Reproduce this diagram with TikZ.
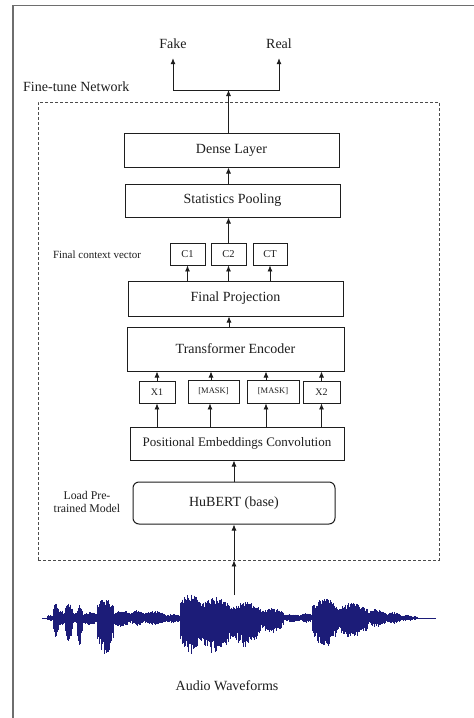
\documentclass[tikz,border=0pt]{standalone}
\usepackage{fontspec}
\setmainfont{Liberation Serif}
\usetikzlibrary{arrows.meta}
\definecolor{wave}{RGB}{28,28,120}
\definecolor{ink}{RGB}{30,30,30}
\definecolor{frame}{RGB}{110,110,110}
\begin{document}
\begin{tikzpicture}[x=1pt,y=-1pt,
  box/.style={draw=ink, line width=1pt, inner sep=0pt, text=ink, font=\rmfamily\fontsize{14}{16}\selectfont},
  smallbox/.style={draw=ink, line width=0.9pt, inner sep=0pt, text=ink},
  arr/.style={draw=ink, line width=0.8pt, -{Latex[length=6pt,width=5pt]}},
  lbl/.style={inner sep=0pt, text=ink, font=\rmfamily\fontsize{14}{16}\selectfont},
  sidelbl/.style={inner sep=0pt, text=ink, font=\rmfamily\fontsize{11.8}{13}\selectfont, align=center},
  ftbox/.style={draw=ink!80, line width=0.8pt, dash pattern=on 3pt off 2pt, inner sep=0pt},
]
\useasboundingbox (0,0) rectangle (474,718);
\fill[white] (0,0) rectangle (474,718);
% outer frame (only top and left visible)
\draw[frame, line width=1.3pt] (474,5.5) -- (13,5.5) -- (13,718);

% fine-tune network dashed region
\node[ftbox, minimum width=401pt, minimum height=458pt] (ft) at (238.5,331) {};
\node[lbl, anchor=west] (ftl) at (23,87) {Fine-tune Network};

% outputs
\node[lbl, minimum height=28pt] (fake) at (173,44) {Fake};
\node[lbl, minimum height=28pt] (real) at (279,44) {Real};

% main boxes
\node[box, minimum width=215pt, minimum height=34pt] (dense) at (231.5,150) {Dense Layer};
\node[box, minimum width=215pt, minimum height=33pt] (stats) at (232.5,200.5) {Statistics Pooling};
\node[smallbox, minimum width=35pt, minimum height=22pt, font=\rmfamily\fontsize{10.5}{12}\selectfont] (c1) at (187.5,254) {C1};
\node[smallbox, minimum width=35pt, minimum height=22pt, font=\rmfamily\fontsize{10.5}{12}\selectfont] (c2) at (228.5,254) {C2};
\node[smallbox, minimum width=34pt, minimum height=22pt, font=\rmfamily\fontsize{10.5}{12}\selectfont] (ct) at (270,254) {CT};
\node[sidelbl, font=\rmfamily\fontsize{11}{13}\selectfont] (fcv) at (97,255) {Final context vector};
\node[box, minimum width=215pt, minimum height=35pt] (proj) at (235.5,298.5) {Final Projection};
\node[box, minimum width=217pt, minimum height=44pt] (enc) at (235.5,349) {Transformer Encoder};
\node[smallbox, minimum width=36pt, minimum height=22pt, font=\rmfamily\fontsize{10}{12}\selectfont] (x1) at (157,392) {X1};
\node[smallbox, minimum width=51pt, minimum height=23pt, font=\rmfamily\fontsize{8.5}{10}\selectfont] (m1) at (213.5,391.5) {[MASK]};
\node[smallbox, minimum width=52pt, minimum height=23pt, font=\rmfamily\fontsize{8.5}{10}\selectfont] (m2) at (273,391.5) {[MASK]};
\node[smallbox, minimum width=37pt, minimum height=22pt, font=\rmfamily\fontsize{10}{12}\selectfont] (x2) at (321.5,392) {X2};
\node[box, minimum width=214pt, minimum height=33pt, font=\rmfamily\fontsize{13}{15}\selectfont] (pec) at (237,443.5) {Positional Embeddings Convolution};
\node[box, rounded corners=6pt, minimum width=202pt, minimum height=42pt] (hub) at (234,503) {HuBERT (base)};
\node[sidelbl] (load) at (87,502) {Load Pre-\\trained Model};

% connectors
\coordinate (split) at (228.5,90);
\draw[arr] (dense.north -| c2) -- (split);
\draw[arr] (split) -| (fake.south);
\draw[arr] (split) -| (real.south);
\draw[arr] (stats.north -| c2) -- (dense.south -| c2);
\draw[arr] (c2.north) -- (stats.south -| c2);
\draw[arr] (proj.north -| c1) -- (c1.south);
\draw[arr] (proj.north -| c2) -- (c2.south);
\draw[arr] (proj.north -| ct) -- (ct.south);
\draw[arr] ([xshift=0.5pt]enc.north -| c2) -- ([xshift=0.5pt]proj.south -| c2);
\draw[arr] (x1.north) -- (enc.south -| x1);
\draw[arr] ([xshift=-2.5pt]m1.north) -- ([xshift=-2.5pt]enc.south -| m1);
\draw[arr] ([xshift=-7pt]m2.north) -- ([xshift=-7pt]enc.south -| m2);
\draw[arr] (x2.north) -- (enc.south -| x2);
\draw[arr] (pec.north -| x1) -- (x1.south);
\draw[arr] ([xshift=-3.5pt]pec.north -| m1) -- ([xshift=-3.5pt]m1.south);
\draw[arr] ([xshift=-7pt]pec.north -| m2) -- ([xshift=-7pt]m2.south);
\draw[arr] (pec.north -| x2) -- (x2.south);
\draw[arr] (hub.north) -- (pec.south -| hub);
\coordinate (wtop) at (234,595);
\draw[arr] (wtop) -- (ft.south -| wtop);
\draw[arr] (ft.south -| hub) -- (hub.south);

% waveform
\draw[wave, line width=0.9pt] (42,618) -- (436,618);
\pgfmathsetseed{12}
\foreach \wa/\wb/\wu/\wdn in {47/53/3/3, 53/58/16/20, 58/65/8/8, 65/72/16/24, 72/77/6/6, 77/82/13/29, 82/97/6/7, 97/113/21/37, 113/130/8/9, 130/143/8/8, 143/165/7/7, 165/180/4/5, 180/200/25/37, 200/230/21/36, 230/260/16/29, 260/283/10/15, 283/300/4/4, 300/312/5/5, 312/337/20/29, 337/367/15/20, 367/385/9/9, 385/400/6/6, 400/413/3/3, 413/417/2/2}{
  \pgfmathtruncatemacro\wn{(\wb-\wa)/0.5}
  \foreach \wi in {0,...,\wn}{
    \pgfmathsetmacro\wx{\wa+\wi*0.5}
    \pgfmathsetmacro\ww{0.6+0.4*sin(180*\wi/(\wn+0.001))}
    \pgfmathsetmacro\wt{618-\wu*\ww*(0.6+0.4*rnd)}
    \pgfmathsetmacro\wbt{618+\wdn*\ww*(0.55+0.45*rnd)}
    \draw[wave, line width=0.9pt] (\wx,\wt) -- (\wx,\wbt);
  }
}
\node[lbl] (aw) at (227,686) {Audio Waveforms};
\end{tikzpicture}
\end{document}
